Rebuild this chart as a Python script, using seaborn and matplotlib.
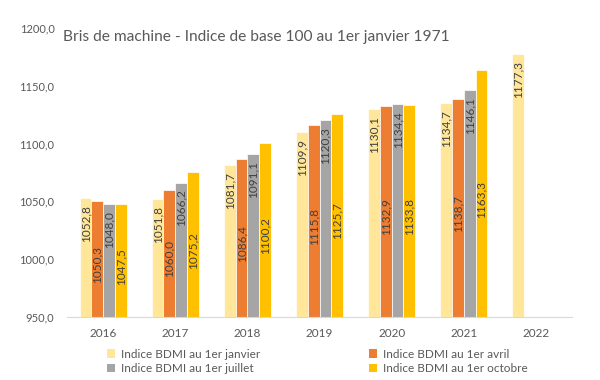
import numpy as np
import pandas as pd
import matplotlib
matplotlib.use('Agg')
import matplotlib.pyplot as plt
from matplotlib.patches import Patch
import seaborn as sns

years = ["2016", "2017", "2018", "2019", "2020", "2021", "2022"]
series_names = [
    "Indice BDMI au 1er janvier",
    "Indice BDMI au 1er avril",
    "Indice BDMI au 1er juillet",
    "Indice BDMI au 1er octobre",
]
janvier = [1052.8, 1051.8, 1081.7, 1109.9, 1130.1, 1134.7, 1177.3]
avril = [1050.3, 1060.0, 1086.4, 1115.8, 1132.9, 1138.7, np.nan]
juillet = [1048.0, 1066.2, 1091.1, 1120.3, 1134.4, 1146.1, np.nan]
octobre = [1047.5, 1075.2, 1100.2, 1125.7, 1133.8, 1163.3, np.nan]
colors = ["#FFE699", "#ED7D31", "#A5A5A5", "#FFC000"]

rows = []
for name, vals in zip(series_names, [janvier, avril, juillet, octobre]):
    for y, v in zip(years, vals):
        rows.append({"annee": y, "serie": name, "valeur": v})
df = pd.DataFrame(rows)

sns.set_theme(style="white")
plt.rcParams['font.family'] = ['Lato', 'DejaVu Sans']

fig = plt.figure(figsize=(6, 3.8), dpi=100)
ax = fig.add_axes([67 / 600, 1 - 317 / 380, 505 / 600, 289 / 380])

sns.barplot(data=df, x="annee", y="valeur", hue="serie", hue_order=series_names,
            palette=colors, saturation=1, width=0.65, edgecolor="white", linewidth=0.5,
            errorbar=None, legend=False, ax=ax)

ax.set_ylim(950, 1200)
ax.set_yticks(np.arange(950, 1201, 50))
ax.set_yticklabels([f"{v:.1f}".replace(".", ",") for v in np.arange(950, 1201, 50)])
ax.set_xlabel("")
ax.set_ylabel("")
ax.tick_params(axis="y", length=0, pad=9, labelsize=8, labelcolor="#595959")
ax.tick_params(axis="x", length=0, pad=8, labelsize=8.5, labelcolor="#595959")
for s in ["top", "right", "left"]:
    ax.spines[s].set_visible(False)
ax.spines["bottom"].set_color("#D9D9D9")
ax.spines["bottom"].set_linewidth(0.8)

# data labels
for i, cont in enumerate(ax.containers):
    for p in cont.patches:
        h = p.get_y() + p.get_height()
        if not np.isfinite(h):
            continue
        xc = p.get_x() + p.get_width() / 2
        lab = f"{h:.1f}".replace(".", ",")
        if i in (0, 2):
            ax.annotate(lab, (xc, h), xytext=(0, -5), textcoords="offset points",
                        rotation=90, ha="center", va="top", fontsize=8.5, color="#404040")
        else:
            ax.annotate(lab, (xc, (950 + h) / 2), xytext=(0, -4), textcoords="offset points",
                        rotation=90, ha="center", va="center", fontsize=8.5, color="#404040")

fig.text(63 / 600, 1 - 37 / 380, "Bris de machine - Indice de base 100 au 1er janvier 1971",
         fontsize=11.2, color="#595959", va="center", ha="left")

# legend filled row by row like the reference
order = [0, 2, 1, 3]
handles = [Patch(facecolor=colors[k], edgecolor="none") for k in order]
labels = [series_names[k] for k in order]
fig.legend(handles, labels, ncol=2, loc="upper left",
           bbox_to_anchor=(96 / 600, 1 - 338 / 380), frameon=False,
           fontsize=8.5, handlelength=0.7, handleheight=0.7, handletextpad=0.5,
           columnspacing=9.2, labelspacing=0.3, labelcolor="#595959")

fig.savefig("out.png", dpi=100)
